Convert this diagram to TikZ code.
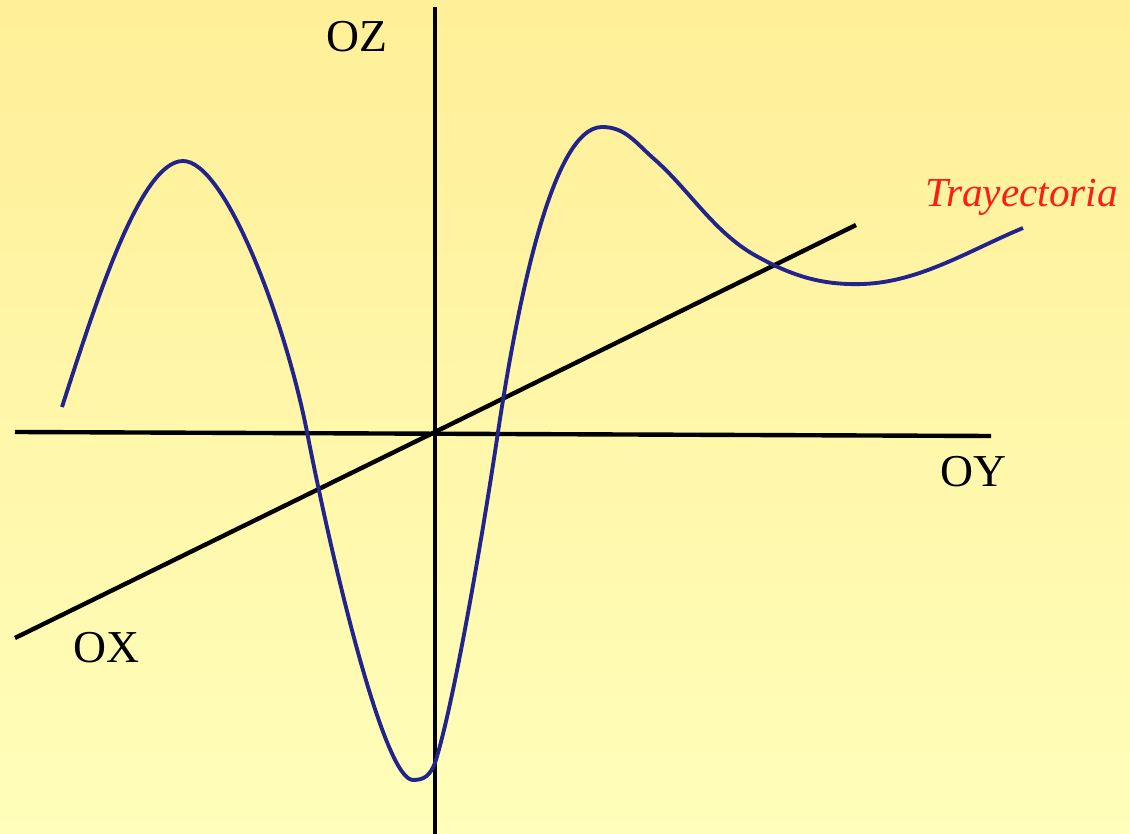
\documentclass[tikz,border=0pt]{standalone}
\usepackage{fontspec}
\setmainfont{Liberation Serif}
\usetikzlibrary{positioning}
\definecolor{sand}{RGB}{255,239,152}
\definecolor{cream}{RGB}{255,254,186}
\definecolor{navy}{RGB}{35,35,140}
\definecolor{flame}{RGB}{250,30,20}
\tikzset{
  axis/.style={line width=2.5pt,black},
  traj/.style={line width=2.2pt,draw=navy,line join=round},
  tag/.style={inner sep=0pt,anchor=base west,font=\fontsize{26}{30}\selectfont},
  curvetag/.style={inner sep=0pt,anchor=base west,text=flame,
    font=\fontsize{23.5}{28}\selectfont\itshape},
}

\begin{document}
\begin{tikzpicture}[x=0.02cm,y=-0.02cm]
    % background
    \shade[top color=sand,bottom color=cream] (0,0) rectangle (1130,834);
    \useasboundingbox (0,0) rectangle (1130,834);
    % axes
    \coordinate (o) at (435,432);
    \coordinate (zt) at (435,7);   \coordinate (zb) at (435,834);
    \coordinate (yl) at (15,432);  \coordinate (yr) at (991,436);
    \coordinate (xl) at (15,638);  \coordinate (xr) at (856,225);
    \draw[axis] (zt) -- (zb);
    \draw[axis] (yl) -- (yr);
    \draw[axis] (xl) -- (o) -- (xr);
    \node[tag] (lz) at (326,52) {OZ};
    \node[tag] (ly) at (940,487) {OY};
    \node[tag] (lx) at (73,663) {OX};
    % trajectory
    \draw[traj] (62,407) .. controls (95,305) and (140,161) .. (183,161)
      .. controls (225,161) and (285,320) .. (307,432)
      .. controls (335,575) and (385,780) .. (413,780)
      .. controls (425,780) and (430,775) .. (435,763)
      .. controls (455,700) and (485,520) .. (498,432)
      .. controls (515,320) and (550,127) .. (602,127)
      .. controls (625,127) and (635,142) .. (653,158)
      .. controls (690,190) and (715,235) .. (760,258)
      .. controls (800,280) and (830,285) .. (863,284)
      .. controls (920,282) and (970,250) .. (1023,228);
    \node[curvetag] (lt) at (925,207) {Trayectoria};
\end{tikzpicture}
\end{document}
